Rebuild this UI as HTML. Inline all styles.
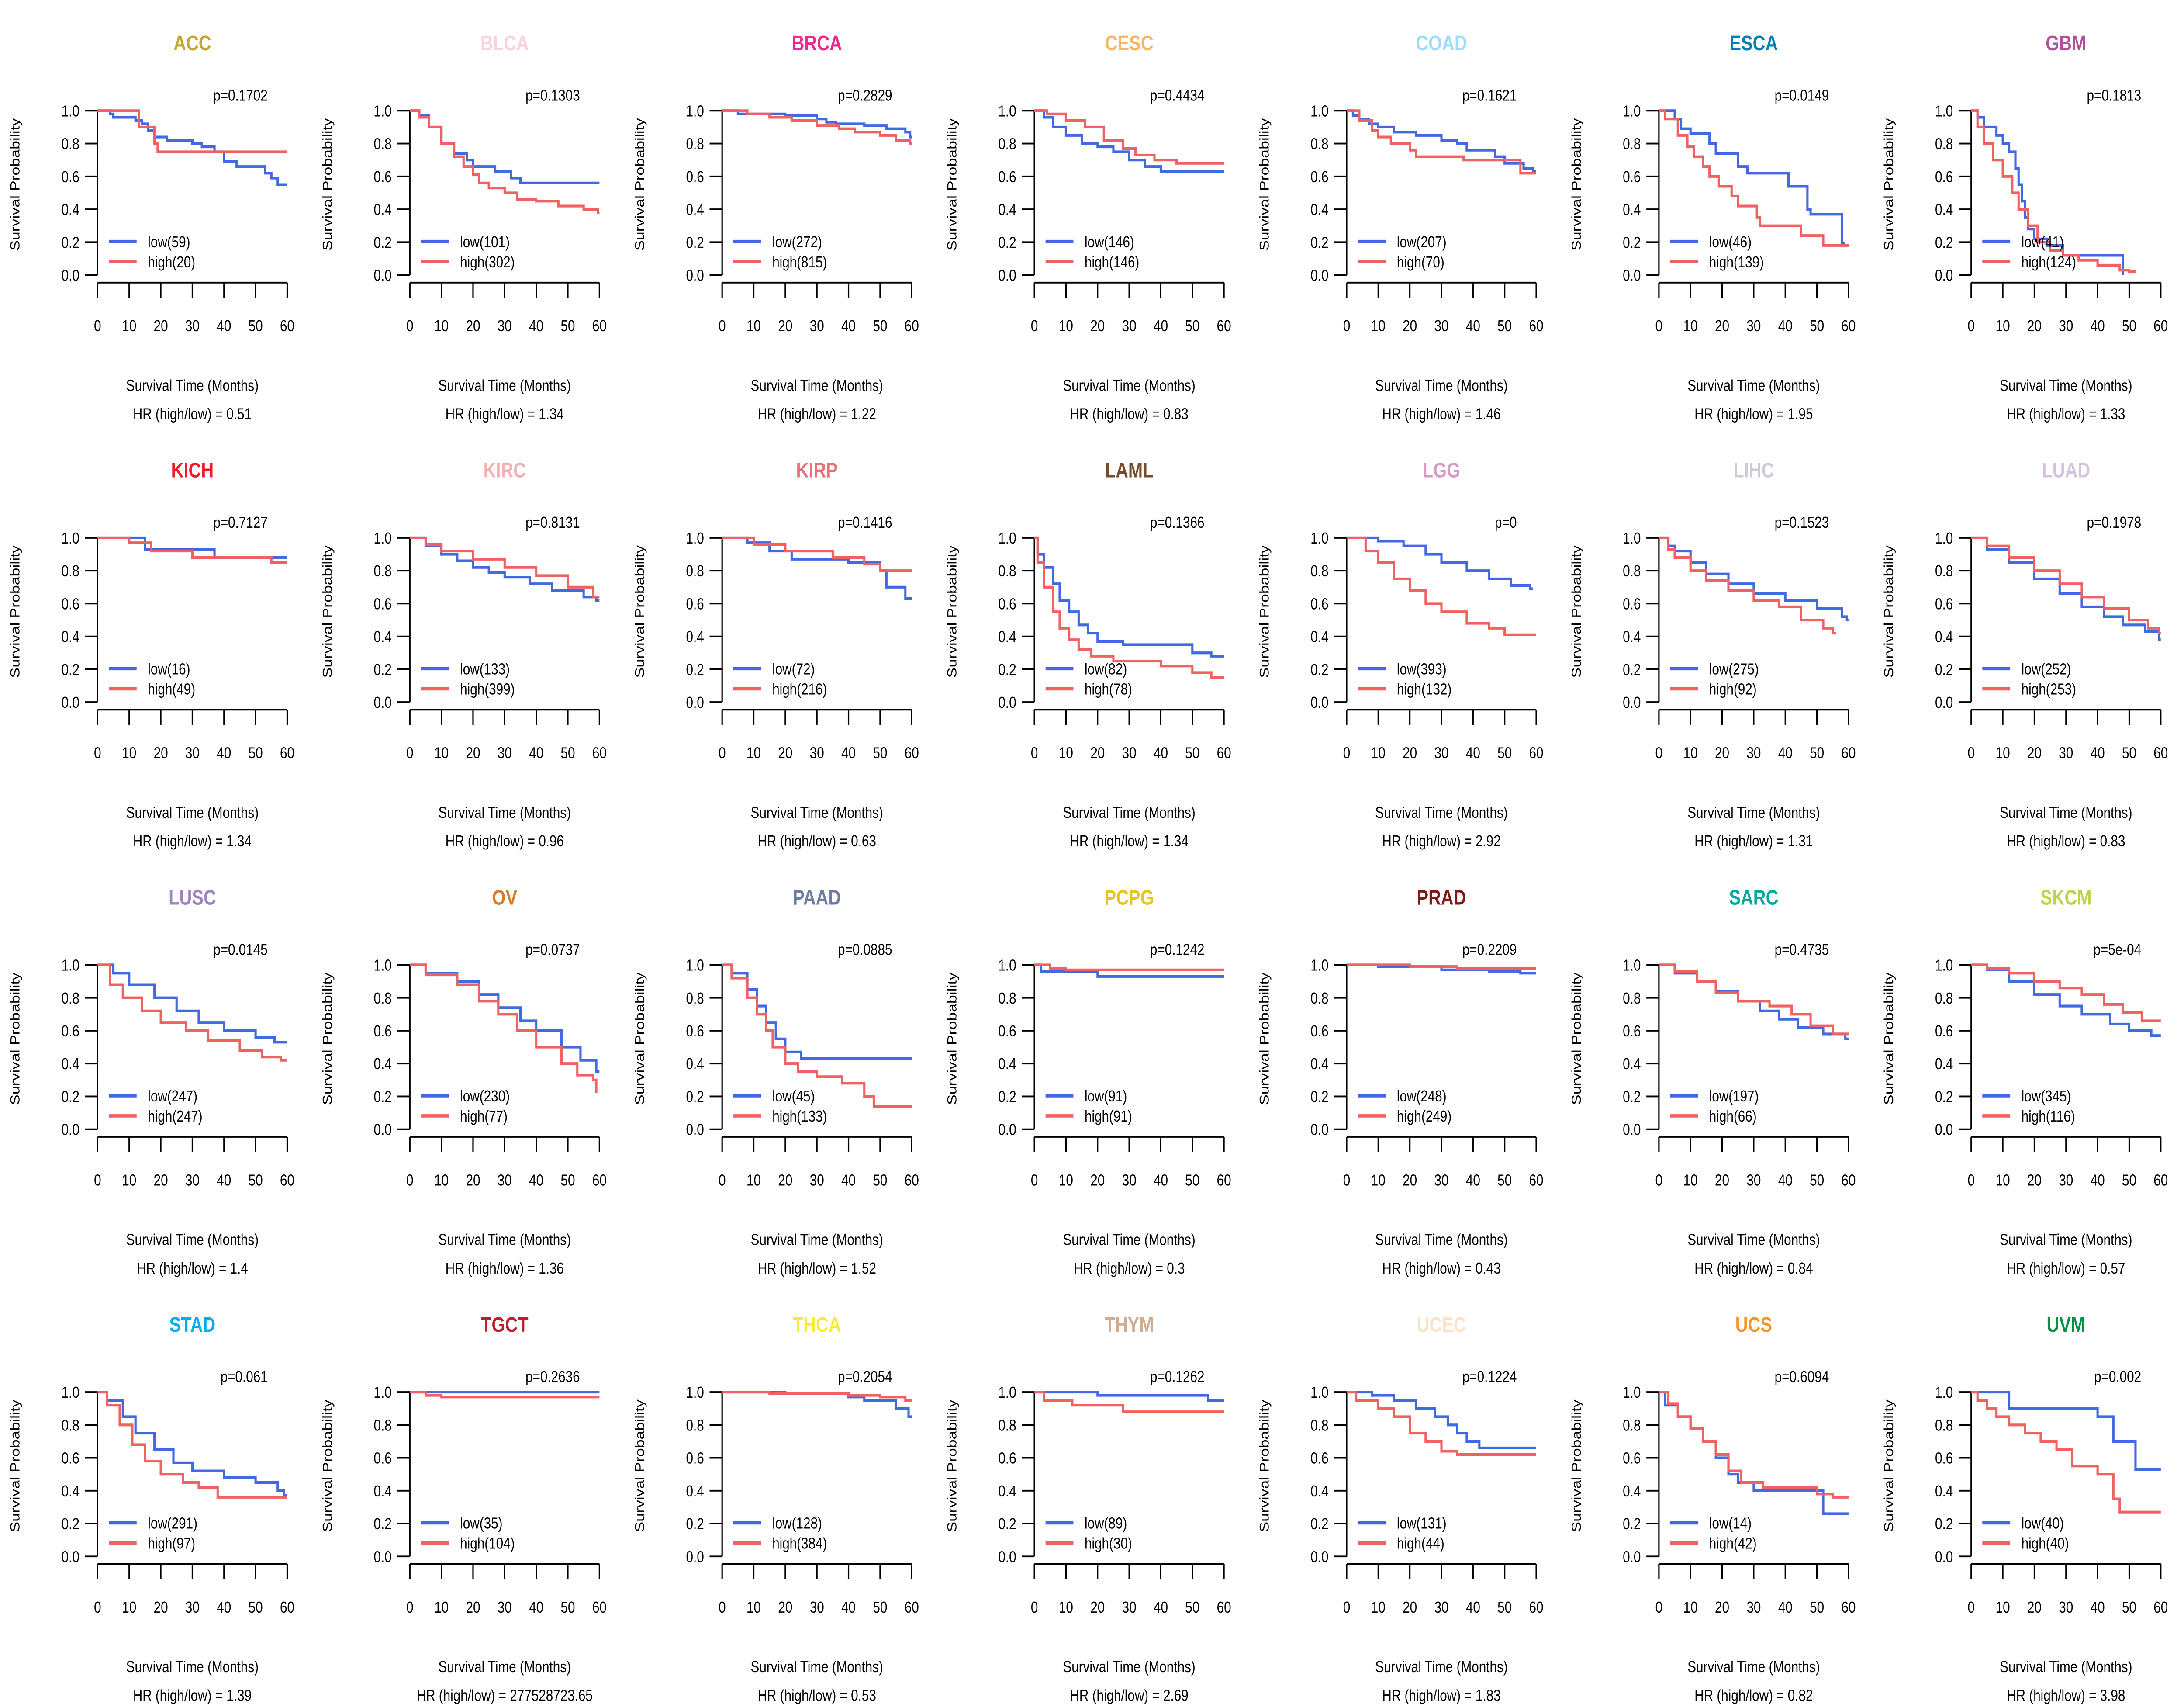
<!DOCTYPE html>
<html><head><meta charset="utf-8"><title>KM survival panels</title>
<style>
html,body{margin:0;padding:0;background:#fff;overflow:hidden;}
svg{display:block;font-family:"Liberation Sans",Arial,sans-serif;}
</style></head>
<body>
<svg id="chart" width="6000" height="3900" viewBox="0 0 1880 1016" preserveAspectRatio="none" xmlns="http://www.w3.org/2000/svg"></svg>
<script>
const cancers = ["ACC","BLCA","BRCA","CESC","COAD","ESCA","GBM","KICH","KIRC","KIRP","LAML","LGG","LIHC","LUAD","LUSC","OV","PAAD","PCPG","PRAD","SARC","SKCM","STAD","TGCT","THCA","THYM","UCEC","UCS","UVM"];
const titleColors = ["#C1A72F","#FAD2D9","#ED2891","#F6B667","#9EDDF9","#007EB5","#B2509E","#ED1C24","#F8AFB3","#EA7075","#754C29","#D49DC7","#CACCDB","#D3C3E0","#A084BD","#D97D25","#6E7BA2","#E8C51D","#7E1918","#00A99D","#BBD642","#00AEEF","#BE1E2D","#F9ED32","#CEAC8F","#FBE3C7","#F89420","#009245"];
const pValues = ["0.1702","0.1303","0.2829","0.4434","0.1621","0.0149","0.1813","0.7127","0.8131","0.1416","0.1366","0","0.1523","0.1978","0.0145","0.0737","0.0885","0.1242","0.2209","0.4735","5e-04","0.061","0.2636","0.2054","0.1262","0.1224","0.6094","0.002"];
const hrValues = ["0.51","1.34","1.22","0.83","1.46","1.95","1.33","1.34","0.96","0.63","1.34","2.92","1.31","0.83","1.4","1.36","1.52","0.3","0.43","0.84","0.57","1.39","277528723.65","0.53","2.69","1.83","0.82","3.98"];
const lowN = [59,101,272,146,207,46,41,16,133,72,82,393,275,252,247,230,45,91,248,197,345,291,35,128,89,131,14,40];
const highN = [20,302,815,146,70,139,124,49,399,216,78,132,92,253,247,77,133,91,249,66,116,97,104,384,30,44,42,40];
const endLow = [60,60,60,60,60,59,48,60,60,60,60,59,60,60,60,60,60,60,60,60,60,60,60,60,60,60,60,60];
const endHigh = [60,60,60,60,60,60,52,60,60,60,60,60,56,60,60,59,60,60,60,60,60,60,60,60,60,60,60,60];
// step curves: [time, survival after drop]
const lowCurves = [
 [[4,.98],[5,.96],[12,.94],[14,.92],[16,.88],[18,.84],[22,.82],[30,.8],[33,.78],[37,.75],[40,.69],[44,.66],[53,.62],[55,.59],[57,.55]],
 [[3,.97],[6,.9],[10,.8],[14,.74],[18,.7],[20,.66],[27,.63],[32,.59],[35,.56]],
 [[5,.98],[20,.97],[30,.95],[33,.93],[36,.92],[45,.91],[52,.89],[58,.87],[59.5,.84]],
 [[3,.96],[6,.9],[10,.85],[15,.8],[20,.78],[25,.75],[30,.7],[35,.66],[40,.63]],
 [[2,.97],[4,.95],[7,.92],[10,.9],[15,.87],[22,.85],[30,.82],[35,.8],[38,.76],[47,.72],[50,.68],[56,.65],[59,.63]],
 [[5,.95],[7,.89],[10,.86],[16,.8],[18,.74],[25,.66],[28,.62],[41,.54],[47,.4],[48,.37],[58,.19]],
 [[2,.96],[4,.9],[8,.85],[10,.8],[12,.75],[14,.65],[15,.55],[16,.45],[17,.35],[18,.28],[20,.22],[24,.18],[29,.12],[48,0]],
 [[15,.93],[37,.88]],
 [[5,.95],[10,.9],[15,.86],[20,.82],[25,.79],[30,.76],[38,.72],[45,.68],[55,.64],[59,.62]],
 [[8,.97],[15,.92],[22,.87],[40,.85],[50,.8],[52,.7],[58,.63]],
 [[1,.9],[3,.82],[6,.72],[8,.62],[11,.55],[14,.47],[17,.42],[20,.37],[28,.35],[50,.3],[56,.28]],
 [[10,.98],[18,.95],[25,.9],[30,.85],[38,.8],[45,.75],[52,.71],[58,.69]],
 [[3,.95],[5,.92],[10,.85],[15,.78],[22,.72],[30,.66],[40,.62],[50,.57],[58,.52],[59.5,.5]],
 [[5,.93],[12,.85],[20,.75],[28,.66],[35,.58],[42,.52],[48,.47],[55,.43],[59.5,.38]],
 [[5,.95],[10,.88],[18,.8],[25,.72],[32,.65],[40,.6],[50,.56],[56,.53]],
 [[5,.95],[15,.9],[22,.82],[28,.74],[35,.66],[40,.6],[48,.5],[54,.42],[59,.35]],
 [[3,.95],[8,.85],[11,.75],[14,.65],[17,.55],[20,.47],[25,.43]],
 [[2,.96],[20,.93]],
 [[10,.99],[30,.97],[45,.96],[55,.95]],
 [[5,.95],[12,.9],[18,.84],[25,.78],[32,.72],[38,.67],[44,.62],[52,.58],[59,.55]],
 [[5,.97],[12,.9],[20,.82],[28,.75],[35,.7],[44,.64],[50,.6],[57,.57]],
 [[3,.95],[8,.85],[12,.75],[18,.65],[24,.57],[30,.52],[40,.48],[50,.45],[57,.4],[59,.37]],
 [],
 [[20,.99],[40,.97],[45,.95],[55,.9],[59,.85]],
 [[20,.98],[55,.95]],
 [[8,.98],[15,.95],[22,.9],[28,.85],[32,.8],[35,.75],[38,.7],[42,.66]],
 [[2,.92],[6,.85],[10,.78],[14,.7],[18,.6],[22,.5],[25,.45],[30,.4],[52,.26]],
 [[12,.9],[40,.85],[45,.7],[52,.53]]
];
const highCurves = [
 [[13,.9],[18,.8],[19,.75]],
 [[3,.96],[6,.9],[10,.8],[14,.72],[17,.66],[20,.61],[22,.56],[25,.53],[30,.5],[34,.46],[40,.45],[47,.42],[55,.4],[59.5,.38]],
 [[8,.98],[15,.96],[22,.94],[30,.91],[37,.89],[42,.87],[50,.85],[55,.82],[59.5,.8]],
 [[4,.98],[10,.94],[16,.9],[22,.82],[28,.77],[32,.73],[38,.7],[45,.68]],
 [[4,.94],[8,.88],[10,.84],[14,.8],[20,.76],[22,.72],[37,.7],[55,.62]],
 [[2,.95],[6,.85],[9,.78],[11,.72],[14,.66],[16,.6],[19,.54],[23,.48],[25,.42],[31,.35],[32,.3],[45,.24],[52,.18]],
 [[2,.9],[4,.8],[7,.7],[10,.6],[13,.5],[15,.4],[18,.3],[21,.2],[25,.15],[29,.12],[34,.09],[40,.06],[47,.03],[50,.02]],
 [[10,.97],[17,.92],[30,.88],[55,.85]],
 [[5,.96],[10,.92],[20,.87],[30,.82],[40,.77],[50,.7],[58,.64]],
 [[10,.96],[20,.92],[35,.88],[45,.84],[50,.8]],
 [[1,.85],[3,.7],[6,.55],[8,.45],[11,.38],[14,.32],[18,.28],[25,.25],[40,.22],[50,.18],[56,.15]],
 [[6,.92],[10,.85],[15,.75],[20,.68],[25,.6],[30,.55],[38,.48],[45,.45],[50,.41]],
 [[3,.93],[5,.88],[10,.8],[15,.74],[22,.68],[30,.62],[38,.58],[45,.5],[52,.45],[55,.42]],
 [[5,.95],[12,.88],[20,.8],[28,.72],[35,.64],[42,.57],[50,.5],[56,.45],[59.5,.42]],
 [[4,.88],[8,.8],[14,.72],[20,.65],[28,.6],[35,.54],[45,.48],[52,.44],[58,.42]],
 [[5,.94],[15,.88],[22,.78],[28,.7],[34,.6],[40,.5],[48,.4],[53,.33],[58,.3],[59,.22]],
 [[3,.92],[8,.8],[11,.7],[14,.6],[16,.5],[20,.4],[24,.35],[30,.32],[38,.28],[45,.2],[48,.14]],
 [[5,.98],[10,.97]],
 [[20,.99],[35,.98]],
 [[5,.96],[12,.9],[18,.83],[25,.78],[35,.75],[42,.7],[48,.63],[55,.58]],
 [[5,.98],[12,.95],[20,.9],[28,.86],[35,.82],[42,.76],[48,.71],[54,.66]],
 [[3,.92],[7,.8],[11,.68],[15,.58],[20,.5],[27,.45],[32,.42],[38,.36]],
 [[5,.98],[10,.97]],
 [[15,.99],[40,.98],[50,.97],[58,.95]],
 [[3,.95],[12,.92],[28,.88]],
 [[3,.95],[10,.9],[15,.85],[20,.75],[25,.7],[30,.64],[35,.62]],
 [[3,.93],[6,.85],[10,.78],[14,.7],[18,.62],[22,.52],[26,.45],[33,.42],[50,.38],[55,.36]],
 [[2,.95],[5,.9],[8,.85],[12,.8],[17,.75],[22,.7],[27,.65],[32,.55],[40,.5],[45,.35],[47,.27]]
];
const xTicks = [0,10,20,30,40,50,60];
const yTicks = [0,0.2,0.4,0.6,0.8,1.0];

const NS = "http://www.w3.org/2000/svg";
const svg = document.getElementById('chart');
function mk(tag, attrs, parent){const e=document.createElementNS(NS,tag);for(const k in attrs)e.setAttribute(k,attrs[k]);(parent||svg).appendChild(e);return e;}
const BLUE="#4169E1", RED="#F06262";
const PW=136, PH=98;
function stepPath(curve,end,sx,sy){
  let d="M"+sx(0)+","+sy(1);
  for(const [t,v] of curve){d+="H"+sx(t)+"V"+sy(v);}
  d+="H"+sx(end); return d;
}
cancers.forEach((name,i)=>{
  const c=i%7, r=Math.floor(i/7);
  const x0=70+224*c, yTop=66+254.67*r, yBot=yTop+PH;
  const sx=t=>x0+t/60*PW, sy=v=>yBot-v*PH;
  const g=mk('g',{});
  
  
  let e;
  e=mk('text',{x:x0+68,y:yTop-36,'text-anchor':'middle','font-size':12.5,'font-weight':'bold',fill:titleColors[i]},g); e.textContent=name;
  
  
  e=mk('text',{x:x0+122,y:yTop-6,'text-anchor':'end','font-size':9.3,fill:'#000'},g); e.textContent='p='+pValues[i];
  
  
  e=mk('line',{x1:x0,y1:yTop,x2:x0,y2:yBot,stroke:'#000','stroke-width':1},g);
  
  
  yTicks.forEach(v=>{
    const t=mk('line',{x1:x0-9,x2:x0,y1:sy(v),y2:sy(v),stroke:'#000','stroke-width':1},g);
    
    
    const l=mk('text',{x:x0-13,y:sy(v)+3.4,'text-anchor':'end','font-size':9.3},g); l.textContent=v.toFixed(1);
    
    
  });
  const ax=yBot+4.5;
  e=mk('line',{x1:sx(0),x2:sx(60),y1:ax,y2:ax,stroke:'#000','stroke-width':1},g);
  
  
  xTicks.forEach(t=>{
    const k=mk('line',{x1:sx(t),x2:sx(t),y1:ax,y2:ax+9,stroke:'#000','stroke-width':1},g);
    
    
    const l=mk('text',{x:sx(t),y:ax+29,'text-anchor':'middle','font-size':9.3},g); l.textContent=t;
    
    
  });
  e=mk('text',{x:x0+68,y:yBot+69,'text-anchor':'middle','font-size':9.3},g); e.textContent='Survival Time (Months)';
  
  
  e=mk('text',{x:x0+68,y:yBot+86,'text-anchor':'middle','font-size':9.3,'xml:space':'preserve'},g); e.textContent='HR (high/low) =  '+hrValues[i];
  
  
  e=mk('text',{x:0,y:0,'text-anchor':'middle','font-size':9.3,transform:`translate(${x0-56},${yTop+44}) rotate(-90)`},g); e.textContent='Survival Probability';
  
  
  e=mk('path',{d:stepPath(lowCurves[i],endLow[i],sx,sy),fill:'none',stroke:BLUE,'stroke-width':1.6},g);
  
  
  e=mk('path',{d:stepPath(highCurves[i],endHigh[i],sx,sy),fill:'none',stroke:RED,'stroke-width':1.6},g);
  
  
  [[BLUE,'low('+lowN[i]+')',yTop+78],[RED,'high('+highN[i]+')',yTop+90]].forEach(([col,txt,ly],j)=>{
    const ln=mk('line',{x1:x0+8,x2:x0+28,y1:ly,y2:ly,stroke:col,'stroke-width':2},g);
    
    
    const lt=mk('text',{x:x0+36,y:ly+3.4,'font-size':9.3},g); lt.textContent=txt;
    
    
  });
});
</script>
</body></html>
